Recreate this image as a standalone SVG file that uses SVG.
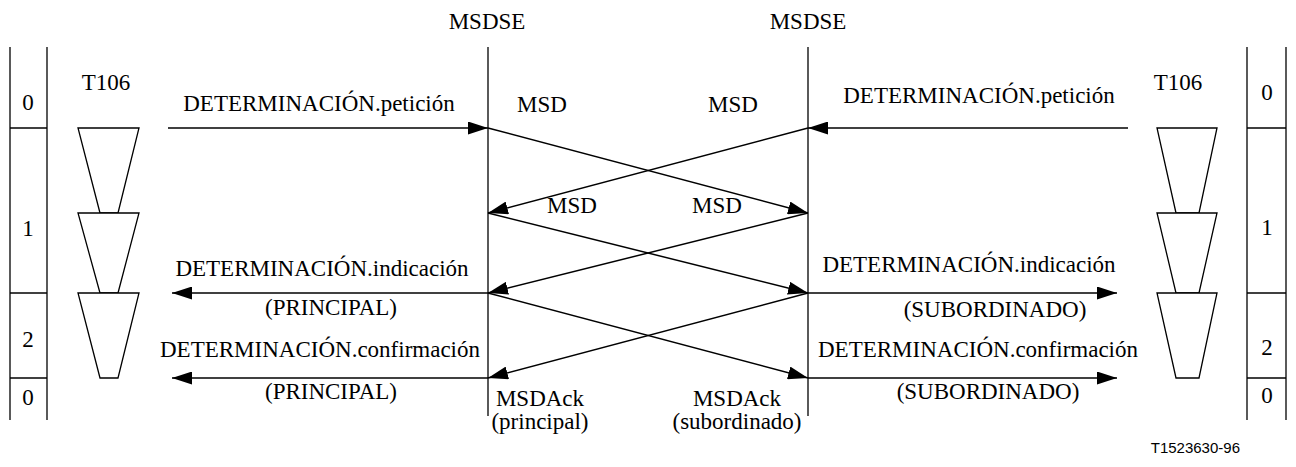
<svg xmlns="http://www.w3.org/2000/svg" width="1296" height="467" viewBox="0 0 1296 467">
<style>
  text { font-family: "Liberation Serif", "Times New Roman", serif; font-size: 23px; fill: #000; }
  .c { text-anchor: middle; }
  .ln { stroke: #000; stroke-width: 1.3; fill: none; }
  .ar { stroke: #000; stroke-width: 1.5; fill: none; marker-end: url(#ah); }
  .tz { stroke: #000; stroke-width: 1.3; fill: #fff; }
  .ref { font-family: "Liberation Sans", Arial, sans-serif; font-size: 15px; text-anchor: end; }
</style>
<defs>
  <marker id="ah" markerUnits="userSpaceOnUse" markerWidth="20" markerHeight="13" refX="20" refY="6.5" orient="auto">
    <path d="M0,0 L20,6.5 L0,13 z" fill="#000"/>
  </marker>
</defs>
<rect width="1296" height="467" fill="#fff"/>

<g id="state-table-left">
  <line class="ln" x1="10" y1="47" x2="10" y2="420"/>
  <line class="ln" x1="47" y1="47" x2="47" y2="420"/>
  <line class="ln" x1="10" y1="128" x2="47" y2="128"/>
  <line class="ln" x1="10" y1="293" x2="47" y2="293"/>
  <line class="ln" x1="10" y1="378" x2="47" y2="378"/>
  <text class="c" x="28" y="110">0</text>
  <text class="c" x="28" y="236">1</text>
  <text class="c" x="28" y="347">2</text>
  <text class="c" x="28" y="405">0</text>
</g>

<g id="state-table-right">
  <line class="ln" x1="1247" y1="47" x2="1247" y2="420"/>
  <line class="ln" x1="1286" y1="47" x2="1286" y2="420"/>
  <line class="ln" x1="1247" y1="128" x2="1286" y2="128"/>
  <line class="ln" x1="1247" y1="293" x2="1286" y2="293"/>
  <line class="ln" x1="1247" y1="378" x2="1286" y2="378"/>
  <text class="c" x="1267" y="100">0</text>
  <text class="c" x="1267" y="235">1</text>
  <text class="c" x="1267" y="355">2</text>
  <text class="c" x="1267" y="403">0</text>
</g>

<g id="timer-left">
  <text class="c" x="106" y="90">T106</text>
  <polygon class="tz" points="78,128 139,128 118,213 100,213"/>
  <polygon class="tz" points="78,213 139,213 118,293 100,293"/>
  <polygon class="tz" points="78,293 139,293 118,378 100,378"/>
</g>

<g id="timer-right">
  <text class="c" x="1178" y="90">T106</text>
  <polygon class="tz" points="1157,128 1217,128 1199,213 1176,213"/>
  <polygon class="tz" points="1157,213 1217,213 1199,293 1176,293"/>
  <polygon class="tz" points="1157,293 1217,293 1199,378 1176,378"/>
</g>

<g id="msdse-left">
  <text class="c" x="487" y="29">MSDSE</text>
  <line class="ln" x1="488" y1="47" x2="488" y2="416"/>
</g>

<g id="msdse-right">
  <text class="c" x="808" y="29">MSDSE</text>
  <line class="ln" x1="808" y1="47" x2="808" y2="416"/>
</g>

<g id="connectors">
  <line class="ar" x1="168" y1="128" x2="488" y2="128"/>
  <line class="ar" x1="1128" y1="128" x2="808" y2="128"/>
  <line class="ar" x1="488" y1="128" x2="808" y2="213"/>
  <line class="ar" x1="808" y1="128" x2="488" y2="213"/>
  <line class="ar" x1="488" y1="213" x2="808" y2="293"/>
  <line class="ar" x1="808" y1="213" x2="488" y2="293"/>
  <line class="ar" x1="488" y1="293" x2="808" y2="378"/>
  <line class="ar" x1="808" y1="293" x2="488" y2="378"/>
  <line class="ar" x1="488" y1="293" x2="172" y2="293"/>
  <line class="ar" x1="488" y1="378" x2="172" y2="378"/>
  <line class="ar" x1="808" y1="293" x2="1117" y2="293"/>
  <line class="ar" x1="808" y1="378" x2="1117" y2="378"/>
</g>

<g id="labels">
  <text class="c" x="319" y="111">DETERMINACIÓN.petición</text>
  <text class="c" x="979" y="103">DETERMINACIÓN.petición</text>
  <text class="c" x="542" y="112">MSD</text>
  <text class="c" x="733" y="112">MSD</text>
  <text class="c" x="572" y="213">MSD</text>
  <text class="c" x="717" y="213">MSD</text>
  <text class="c" x="322" y="276">DETERMINACIÓN.indicación</text>
  <text class="c" x="331" y="315">(PRINCIPAL)</text>
  <text class="c" x="320" y="357">DETERMINACIÓN.confirmación</text>
  <text class="c" x="331" y="399">(PRINCIPAL)</text>
  <text class="c" x="969" y="272">DETERMINACIÓN.indicación</text>
  <text class="c" x="995" y="317">(SUBORDINADO)</text>
  <text class="c" x="978" y="357">DETERMINACIÓN.confirmación</text>
  <text class="c" x="988" y="399">(SUBORDINADO)</text>
  <text class="c" x="540" y="406">MSDAck<tspan x="540" dy="23">(principal)</tspan></text>
  <text class="c" x="737" y="406">MSDAck<tspan x="737" dy="23">(subordinado)</tspan></text>
  <text class="ref" x="1240" y="453">T1523630-96</text>
</g>
</svg>
